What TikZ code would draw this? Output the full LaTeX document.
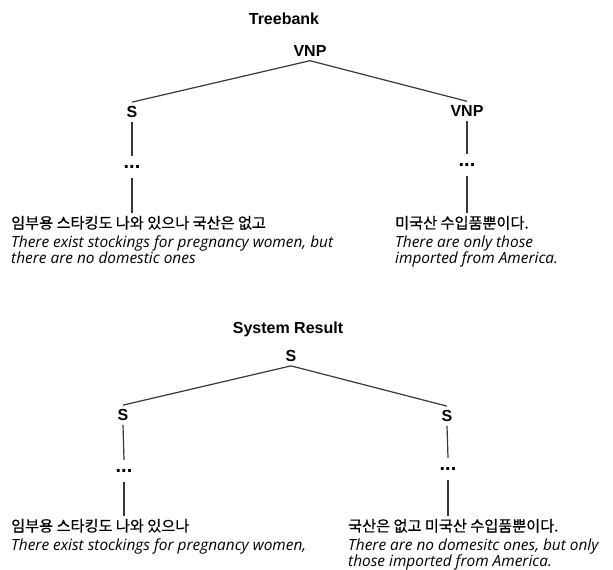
\documentclass[tikz,border=0pt]{standalone}
\usepackage{fontspec}
\setmainfont{Liberation Sans}
\newfontfamily\kr[FakeBold=0.6]{Noto Sans CJK KR}
\newfontfamily\en{Open Sans}
\begin{document}
\begin{tikzpicture}[x=1pt,y=-1pt,
  lbl/.style={font=\fontsize{16}{16}\selectfont\bfseries, inner sep=4pt},
  ttl/.style={font=\fontsize{16}{16}\selectfont\bfseries, inner sep=0pt},
  dotsbox/.style={font=\fontsize{20}{20}\selectfont\bfseries, inner sep=0pt, minimum height=22pt},
  ko/.style={font=\kr\fontsize{15.2}{17}\selectfont, anchor=base west, inner xsep=0pt, inner ysep=3pt},
  itx/.style={font=\en\itshape\fontsize{15.4}{17}\selectfont, anchor=base west, inner sep=0pt},
  edge/.style={draw=black!78, line width=1.2pt}]
\useasboundingbox[fill=white] (0,0) rectangle (613,570);
% ---- Treebank ----
\node[ttl] (t1) at (284,19) {Treebank};
\node[lbl] (r1) at (310,51) {VNP};
\node[lbl] (a1) at (132,112) {S};
\node[lbl] (b1) at (467,111) {VNP};
\draw[edge] (r1.south) -- (a1.north);
\draw[edge] (r1.south) -- (b1.north);
\node[dotsbox] (da1) at (132,167) {...};
\node[dotsbox] (db1) at (467,165) {...};
\draw[edge] (a1.south) -- (da1.north);
\draw[edge] (b1.south) -- (db1.north);
\node[ko] (ka1) at (11,228.5) {임부용 스타킹도 나와 있으나 국산은 없고};
\node[itx] (ea1) at (11,247) {There exist stockings for pregnancy women, but};
\node[itx] (ea2) at (11,263) {there are no domestic ones};
\node[ko] (kb1) at (395,228.5) {미국산 수입품뿐이다.};
\node[itx] (eb1) at (395,247) {There are only those};
\node[itx] (eb2) at (395,263) {imported from America.};
\draw[edge] (da1.south) -- (da1.south |- ka1.north);
\draw[edge] (db1.south) -- (db1.south |- kb1.north);
% ---- System Result ----
\node[ttl] (t2) at (288,329) {System Result};
\node[lbl] (r2) at (291,356) {S};
\node[lbl] (a2) at (123,415) {S};
\node[lbl] (b2) at (447,416) {S};
\draw[edge] (r2.south) -- (a2.north);
\draw[edge] (r2.south) -- (b2.north);
\node[dotsbox] (da2) at (124,471) {...};
\node[dotsbox] (db2) at (448,469) {...};
\draw[edge] (a2.south) -- (da2.north);
\draw[edge] (b2.south) -- (db2.north);
\node[ko] (ka2) at (11,531.5) {임부용 스타킹도 나와 있으나};
\node[itx] (ea3) at (11,550) {There exist stockings for pregnancy women,};
\node[ko] (kb2) at (348,531.5) {국산은 없고 미국산 수입품뿐이다.};
\node[itx] (eb3) at (348,550) {There are no domesitc ones, but only};
\node[itx] (eb4) at (348,566) {those imported from America.};
\draw[edge] (da2.south) -- (da2.south |- ka2.north);
\draw[edge] (db2.south) -- (db2.south |- kb2.north);
\end{tikzpicture}
\end{document}
